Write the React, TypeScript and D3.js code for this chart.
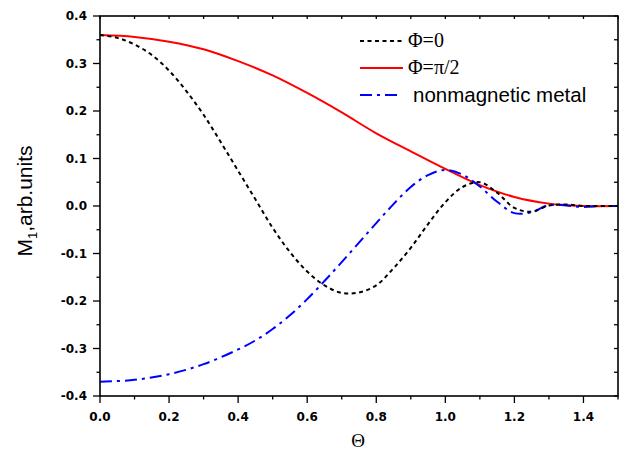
import React from "react";
import * as d3 from "d3";

const thetaRed = [0, 0.1, 0.2, 0.3, 0.4, 0.5, 0.6, 0.7, 0.8, 0.9, 1.0, 1.1, 1.2, 1.3, 1.35, 1.4, 1.5];
const phiHalfPi = [0.360, 0.356, 0.346, 0.330, 0.305, 0.275, 0.238, 0.197, 0.153, 0.115, 0.078, 0.044, 0.019, 0.005, 0.002, 0.0, 0.0];

const thetaBlack = [0, 0.05, 0.1, 0.15, 0.2, 0.25, 0.3, 0.35, 0.4, 0.45, 0.5, 0.55, 0.6, 0.65, 0.7, 0.75, 0.8, 0.85, 0.9, 0.95, 1.0, 1.05, 1.1, 1.15, 1.2, 1.25, 1.3, 1.35, 1.4, 1.45, 1.5];
const phiZero = [0.360, 0.354, 0.340, 0.318, 0.285, 0.242, 0.192, 0.134, 0.074, 0.014, -0.046, -0.097, -0.138, -0.167, -0.183, -0.182, -0.167, -0.131, -0.088, -0.038, 0.008, 0.040, 0.050, 0.028, -0.004, -0.012, 0.001, 0.003, 0.0, 0.0, 0.0];

const thetaBlue = [0, 0.1, 0.2, 0.3, 0.4, 0.45, 0.5, 0.55, 0.6, 0.65, 0.7, 0.75, 0.8, 0.85, 0.9, 0.95, 1.0, 1.05, 1.1, 1.15, 1.2, 1.25, 1.3, 1.35, 1.4, 1.45, 1.5];
const nonmagnetic = [-0.370, -0.366, -0.354, -0.333, -0.302, -0.283, -0.259, -0.230, -0.196, -0.158, -0.118, -0.077, -0.036, 0.004, 0.040, 0.065, 0.076, 0.066, 0.041, 0.009, -0.015, -0.013, 0.002, 0.001, -0.002, 0.0, 0.0];

const xTicks = [0, 0.2, 0.4, 0.6, 0.8, 1.0, 1.2, 1.4];
const xMinor = [0.1, 0.3, 0.5, 0.7, 0.9, 1.1, 1.3, 1.5];
const yTicks = [-0.4, -0.3, -0.2, -0.1, 0.0, 0.1, 0.2, 0.3, 0.4];
const yMinor = [-0.35, -0.25, -0.15, -0.05, 0.05, 0.15, 0.25, 0.35];

const W = 625, H = 458;
const L = 100, R = 618, T = 16, B = 396;

export default function App() {
  const x = d3.scaleLinear().domain([0, 1.5]).range([L, R]);
  const y = d3.scaleLinear().domain([-0.4, 0.4]).range([B, T]);
  const line = d3.line<[number, number]>().x(d => x(d[0])).y(d => y(d[1])).curve(d3.curveCatmullRom.alpha(0.5));
  const red = line(thetaRed.map((t, i) => [t, phiHalfPi[i]]))!;
  const black = line(thetaBlack.map((t, i) => [t, phiZero[i]]))!;
  const blue = line(thetaBlue.map((t, i) => [t, nonmagnetic[i]]))!;
  const tickFont = { fontFamily: "'DejaVu Sans', sans-serif", fontWeight: 700, fontSize: 12 } as const;
  const allY = [...yTicks, ...yMinor];
  const allX = [...xTicks, ...xMinor];
  return (
    <svg width={W} height={H} style={{ position: "fixed", left: 0, top: 0, background: "#fff" }}>
      <rect x={0} y={0} width={W} height={H} fill="#fff" />
      <defs>
        <clipPath id="plot"><rect x={L} y={T} width={R - L} height={B - T} /></clipPath>
      </defs>
      <g clipPath="url(#plot)" fill="none" strokeWidth={2}>
        <path d={red} stroke="#ff0000" />
        <path d={blue} stroke="#0000ff" strokeDasharray="12,5,3,5" />
        <path d={black} stroke="#000" strokeDasharray="4,3.5" />
      </g>
      <rect x={L} y={T} width={R - L} height={B - T} fill="none" stroke="#000" strokeWidth={1.6} />
      {yTicks.map(v => <line key={"yl" + v} x1={L - 7} x2={L} y1={y(v)} y2={y(v)} stroke="#000" strokeWidth={1.3} />)}
      {yMinor.map(v => <line key={"ym" + v} x1={L - 3.5} x2={L} y1={y(v)} y2={y(v)} stroke="#000" strokeWidth={1.3} />)}
      {allY.map(v => <line key={"yr" + v} x1={R - 4} x2={R} y1={y(v)} y2={y(v)} stroke="#000" strokeWidth={1.3} />)}
      {xTicks.map(v => <line key={"xb" + v} x1={x(v)} x2={x(v)} y1={B} y2={B + 7} stroke="#000" strokeWidth={1.3} />)}
      {xMinor.map(v => <line key={"xm" + v} x1={x(v)} x2={x(v)} y1={B} y2={B + 3.5} stroke="#000" strokeWidth={1.3} />)}
      {allX.map(v => <line key={"xt" + v} x1={x(v)} x2={x(v)} y1={T} y2={T + 3} stroke="#000" strokeWidth={1.3} />)}
      {yTicks.map(v => (
        <text key={"ylab" + v} x={L - 13} y={y(v) + 4} textAnchor="end" style={tickFont}>{v.toFixed(1)}</text>
      ))}
      {xTicks.map(v => (
        <text key={"xlab" + v} x={x(v)} y={421} textAnchor="middle" style={tickFont}>{v.toFixed(1)}</text>
      ))}
      <text x={358} y={447} textAnchor="middle" style={{ fontFamily: "'Liberation Serif', serif", fontSize: 19 }}>Θ</text>
      <text transform="translate(32,201) rotate(-90)" textAnchor="middle" style={{ fontFamily: "'Liberation Sans Narrow', 'Liberation Sans', sans-serif", fontSize: 21 }}>
        M<tspan fontSize={13} dy={5}>1</tspan><tspan dy={-5}>,arb.units</tspan>
      </text>
      <line x1={360} x2={403} y1={41} y2={41} stroke="#000" strokeWidth={2} strokeDasharray="4,3.5" />
      <line x1={360} x2={403} y1={68} y2={68} stroke="#ff0000" strokeWidth={2} />
      <line x1={360} x2={400} y1={95} y2={95} stroke="#0000ff" strokeWidth={2} strokeDasharray="12,5,3,5" />
      <text x={408} y={47} style={{ fontFamily: "'Liberation Serif', serif", fontSize: 20 }}>Φ=0</text>
      <text x={408} y={74} style={{ fontFamily: "'Liberation Serif', serif", fontSize: 20 }}>Φ=π/2</text>
      <text x={413} y={102} style={{ fontFamily: "'Liberation Sans', sans-serif", fontSize: 20.5 }}>nonmagnetic metal</text>
    </svg>
  );
}
